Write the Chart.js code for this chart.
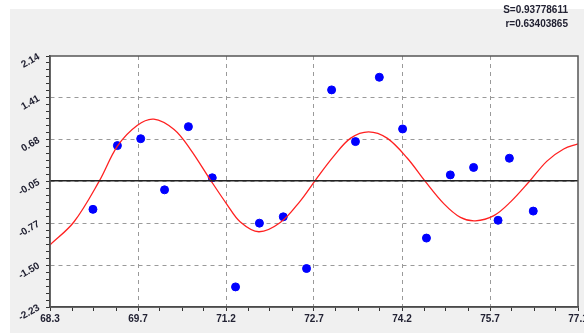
<!DOCTYPE html>
<html>
<head>
<meta charset="utf-8">
<script src="https://cdn.jsdelivr.net/npm/chart.js@4/dist/chart.umd.min.js"></script>
<style>
	body { margin: 0; background: #fff; width: 584px; height: 336px; overflow: hidden; position: relative; }
	#panel { position: absolute; left: 10px; top: 9px; width: 600px; height: 324px; background: #f0f0f0; }
	#stats { position: absolute; right: 16px; top: 3px; text-align: right; font: bold 10px "Liberation Sans Narrow", "Liberation Sans", sans-serif; color: #223; line-height: 14px; }
</style>
</head>
<body>
<div id="panel">
	<canvas id="myChart" width="600" height="324"></canvas>
</div>
<div id="stats">S=0.93778611<br>r=0.63403865</div>
<script>
var xMin = 68.3;
var xMax = 77.15;
var yMin = -2.23;
var yMax = 2.14;
var xTickLabels = ["68.3", "69.7", "71.2", "72.7", "74.2", "75.7", "77.1"];
var yTickLabels = ["-2.23", "-1.50", "-0.77", "-0.05", "0.68", "1.41", "2.14"];
var baseLevel = -0.03;

var pointX = [69.02, 69.43, 69.82, 70.22, 70.62, 71.02, 71.41, 71.81, 72.21, 72.6, 73.02, 73.42, 73.82, 74.21, 74.61, 75.01, 75.4, 75.81, 76.0, 76.4];
var pointY = [-0.53, 0.58, 0.7, -0.19, 0.91, 0.02, -1.88, -0.77, -0.66, -1.56, 1.55, 0.65, 1.77, 0.87, -1.03, 0.07, 0.2, -0.72, 0.36, -0.56];

var curveX = [68.3, 68.7, 69.13, 69.43, 69.76, 70.04, 70.38, 70.65, 70.99, 71.27, 71.49, 71.8, 72.16, 72.49, 72.75, 73.06, 73.34, 73.64, 73.95, 74.29, 74.58, 74.9, 75.18, 75.43, 75.74, 76.02, 76.33, 76.63, 76.91, 77.15];
var curveY = [-1.15, -0.75, -0.03, 0.57, 0.93, 1.04, 0.86, 0.52, -0.02, -0.45, -0.75, -0.92, -0.76, -0.39, -0.02, 0.4, 0.71, 0.82, 0.71, 0.36, -0.03, -0.43, -0.67, -0.73, -0.64, -0.4, -0.05, 0.31, 0.52, 0.61];

var points = pointX.map((x, i) => ({ x: x, y: pointY[i] }));
var curve = curveX.map((x, i) => ({ x: x, y: curveY[i] }));
var base = [{ x: xMin, y: baseLevel }, { x: xMax, y: baseLevel }];

// major ticks carry a label, minor ones only get a small mark
function makeTicks(min, max, majors, subs) {
	var ticks = [];
	var step = (max - min) / (majors - 1) / subs;
	for (var i = 0; i <= (majors - 1) * subs; i++) {
		ticks.push({ value: min + i * step, major: i % subs == 0, idx: i / subs });
	}
	return ticks;
}

var frame = {
	id: "frame",
	beforeDraw(chart) {
		var a = chart.chartArea;
		var ctx = chart.ctx;
		ctx.save();
		ctx.fillStyle = "#fff";
		ctx.fillRect(a.left, a.top, a.right - a.left, a.bottom - a.top);
		ctx.restore();
	},
	afterDraw(chart) {
		var a = chart.chartArea;
		var ctx = chart.ctx;
		ctx.save();
		ctx.strokeStyle = "#555";
		ctx.lineWidth = 1.5;
		ctx.strokeRect(a.left, a.top, a.right - a.left, a.bottom - a.top);
		ctx.restore();
	},
};

var labelFont = { family: "'Liberation Sans Narrow', 'Liberation Sans', sans-serif", size: 10, weight: "bold" };

const ctx = document.getElementById("myChart").getContext("2d");
var chart = new Chart(ctx, {
	type: "scatter",
	data: {
		datasets: [
			{
				data: base,
				showLine: true,
				borderColor: "#222",
				borderWidth: 1.5,
				pointRadius: 0,
			},
			{
				data: curve,
				showLine: true,
				borderColor: "#ff2020",
				borderWidth: 1.3,
				tension: 0.35,
				pointRadius: 0,
			},
			{
				data: points,
				backgroundColor: "#0000ff",
				borderColor: "#0000ff",
				pointRadius: 4,
			},
		],
	},
	options: {
		responsive: false,
		animation: false,
		events: [],
		layout: { padding: { top: 47, left: 0, right: 32, bottom: 4 } },
		plugins: { legend: { display: false }, tooltip: { enabled: false } },
		scales: {
			x: {
				type: "linear",
				min: xMin,
				max: xMax,
				afterBuildTicks: (s) => (s.ticks = makeTicks(xMin, xMax, xTickLabels.length, 4)),
				afterFit: (s) => (s.height = 22),
				ticks: {
					autoSkip: false,
					maxRotation: 0,
					padding: 2,
					color: "#223",
					font: labelFont,
					callback: (v, i, t) => (t[i].major ? xTickLabels[t[i].idx] : ""),
				},
				grid: {
					color: (c) => (c.tick && c.tick.major && c.index > 0 && c.index < 24 ? "#9a9a9a" : "rgba(0,0,0,0)"),
					tickColor: "#333",
					tickLength: 4,
					tickBorderDash: [],
				},
				border: { color: "#333", width: 1.5, dash: [4, 4] },
			},
			y: {
				type: "linear",
				min: yMin,
				max: yMax,
				afterBuildTicks: (s) => (s.ticks = makeTicks(yMin, yMax, yTickLabels.length, 6)),
				afterFit: (s) => (s.width = 40),
				ticks: {
					autoSkip: false,
					minRotation: 30,
					maxRotation: 30,
					padding: 7,
					color: "#223",
					font: labelFont,
					callback: (v, i, t) => (t[i].major ? yTickLabels[t[i].idx] : ""),
				},
				grid: {
					color: (c) => (c.tick && c.tick.major && c.index > 0 && c.index < 36 ? "#9a9a9a" : "rgba(0,0,0,0)"),
					tickColor: "#333",
					tickLength: 4,
					tickBorderDash: [],
				},
				border: { color: "#333", width: 1.5, dash: [4, 4] },
			},
		},
	},
	plugins: [frame],
});
</script>
</body>
</html>
